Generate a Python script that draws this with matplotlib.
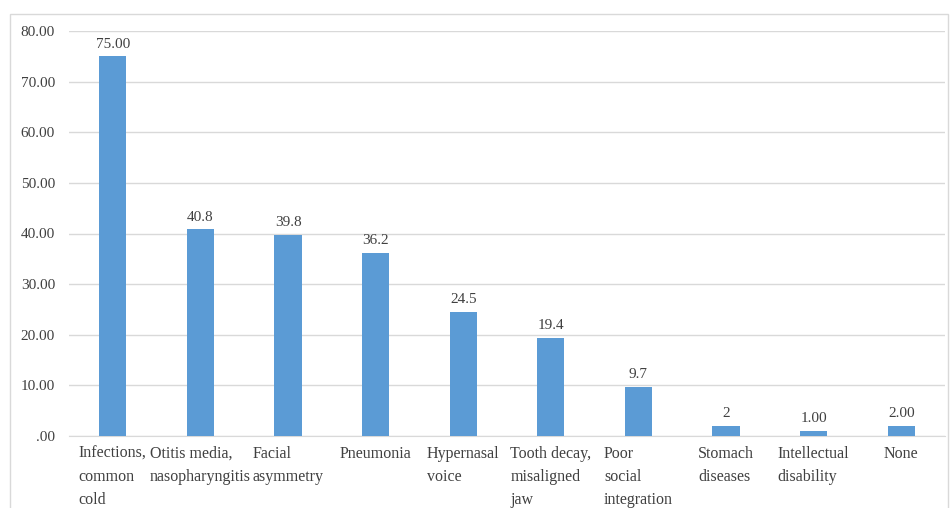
import matplotlib.pyplot as plt
from matplotlib.patches import Rectangle

# 카테고리와 값
categories = [
    "Infections,\ncommon\ncold",
    "Otitis media,\nnasopharyngitis",
    "Facial\nasymmetry",
    "Pneumonia",
    "Hypernasal\nvoice",
    "Tooth decay,\nmisaligned\njaw",
    "Poor\nsocial\nintegration",
    "Stomach\ndiseases",
    "Intellectual\ndisability",
    "None",
]
values = [75.00, 40.8, 39.8, 36.2, 24.5, 19.4, 9.7, 2, 1.00, 2.00]
value_labels = ["75.00", "40.8", "39.8", "36.2", "24.5", "19.4", "9.7", "2", "1.00", "2.00"]
y_ticks = [0, 10, 20, 30, 40, 50, 60, 70, 80]
y_tick_labels = [".00", "10.00", "20.00", "30.00", "40.00", "50.00", "60.00", "70.00", "80.00"]

plt.rcParams["font.family"] = ["Liberation Serif", "DejaVu Serif"]

fig = plt.figure(figsize=(9.52, 5.08), dpi=100)

# 바깥 테두리
fig.patches.append(Rectangle((10 / 952, -0.01), 938 / 952, 1 - 14 / 508 + 0.01,
                             transform=fig.transFigure, fill=False,
                             edgecolor="#d9d9d9", linewidth=1))

ax = fig.add_axes([69 / 952, 1 - 436 / 508, 876 / 952, 405 / 508])

x = range(len(categories))
bars = ax.bar(x, values, width=0.31, color="#5b9bd5", zorder=3)

for i, b in enumerate(bars):
    ax.annotate(value_labels[i], (b.get_x() + b.get_width() / 2, b.get_height()),
                xytext=(0, 4), textcoords="offset points",
                ha="center", va="bottom", fontsize=11, color="#404040")

ax.set_xlim(-0.5, len(categories) - 0.5)
ax.set_ylim(0, 80)
ax.set_yticks(y_ticks)
ax.set_yticklabels(y_tick_labels, fontsize=11, color="#404040")
ax.set_xticks(list(x))
ax.set_xticklabels(categories, fontsize=11.5, color="#404040",
                   multialignment="left", linespacing=1.6)

ax.grid(axis="y", color="#d9d9d9", linewidth=1, zorder=0)
ax.tick_params(axis="both", length=0)
ax.tick_params(axis="y", pad=10)
ax.tick_params(axis="x", pad=7)
for side in ["top", "right", "left"]:
    ax.spines[side].set_visible(False)
ax.spines["bottom"].set_color("#d9d9d9")

fig.savefig("out.png", dpi=100)
